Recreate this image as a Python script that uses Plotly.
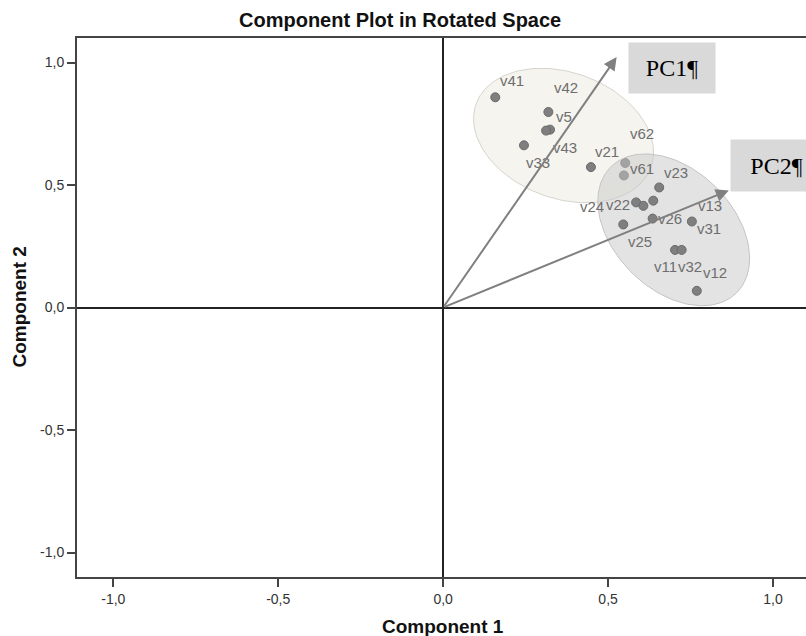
import numpy as np
import plotly.graph_objects as go

# ---------------- data ----------------
upper_vars = ["v41", "v42", "v5", "v43", "v33", "v21", "v62", "v61"]
upper_c1 = [0.158, 0.319, 0.324, 0.312, 0.245, 0.448, 0.552, 0.548]
upper_c2 = [0.858, 0.798, 0.726, 0.722, 0.662, 0.573, 0.590, 0.539]

lower_vars = ["v23", "v24", "v22", "v13", "v26", "v25", "v31", "v11", "v32", "v12"]
lower_c1 = [0.655, 0.585, 0.607, 0.637, 0.635, 0.546, 0.754, 0.703, 0.723, 0.769]
lower_c2 = [0.490, 0.429, 0.415, 0.436, 0.363, 0.339, 0.351, 0.235, 0.235, 0.068]

pc_names = ["PC1¶", "PC2¶"]
pc_c1 = [0.526, 0.866]
pc_c2 = [1.022, 0.478]

tick_vals = [-1.0, -0.5, 0.0, 0.5, 1.0]
tick_text = ["-1,0", "-0,5", "0,0", "0,5", "1,0"]

# ---------------- layout constants ----------------
W, H = 806, 636
ML, MR, MT, MB = 77, 0, 38, 59
XR = [-1.11, 1.10]
YR = [-1.10, 1.10]
PW, PH = W - ML - MR, H - MT - MB
XS = PW / (XR[1] - XR[0])
YS = PH / (YR[1] - YR[0])

# label offsets (pixels, screen: +x right, +y down)
label_off = {
    "v41": (17, -17), "v42": (18, -24), "v5": (14, -13), "v43": (19, 17),
    "v33": (14, 17), "v21": (16, -16), "v62": (17, -29), "v61": (18, -7),
    "v23": (17, -15), "v24": (-44, 4), "v22": (-25, -1), "v13": (57, 5),
    "v26": (17, 0), "v25": (17, 17), "v31": (17, 7), "v11": (-10, 17),
    "v32": (8, 17), "v12": (18, -18),
}

# ellipse definitions: centre (data), semi-axes (px), tilt (deg, screen)
ell_upper = dict(cx=0.365, cy=0.702, a=93, b=63, th=20)
ell_lower = dict(cx=0.699, cy=0.317, a=89, b=60, th=45)


def ellipse(e):
    t = np.linspace(0, 2 * np.pi, 200)
    th = np.radians(e["th"])
    dx = e["a"] * np.cos(t) * np.cos(th) - e["b"] * np.sin(t) * np.sin(th)
    dy = e["a"] * np.cos(t) * np.sin(th) + e["b"] * np.sin(t) * np.cos(th)
    return e["cx"] + dx / XS, e["cy"] - dy / YS


FONT = "Liberation Sans, Arial, sans-serif"
DOT = dict(size=9, color="#7f7f7f", line=dict(color="#6a6a6a", width=1))

fig = go.Figure()

ux, uy = ellipse(ell_upper)
fig.add_trace(go.Scatter(x=ux, y=uy, mode="lines", fill="toself",
                         fillcolor="rgba(245,244,239,1)",
                         line=dict(color="#d6d4ce", width=1),
                         hoverinfo="skip", showlegend=False))
fig.add_trace(go.Scatter(x=upper_c1, y=upper_c2, mode="markers", marker=DOT,
                         text=upper_vars, showlegend=False))

lx, ly = ellipse(ell_lower)
fig.add_trace(go.Scatter(x=lx, y=ly, mode="lines", fill="toself",
                         fillcolor="rgba(200,200,200,0.5)",
                         line=dict(color="#c4c4c4", width=1),
                         hoverinfo="skip", showlegend=False))
fig.add_trace(go.Scatter(x=lower_c1, y=lower_c2, mode="markers", marker=DOT,
                         text=lower_vars, showlegend=False))

annotations = []
for names, xs, ys in ((upper_vars, upper_c1, upper_c2), (lower_vars, lower_c1, lower_c2)):
    for n, x, y in zip(names, xs, ys):
        ox, oy = label_off[n]
        annotations.append(dict(x=x, y=y, xref="x", yref="y", text=n, showarrow=False,
                                xshift=ox, yshift=-oy,
                                font=dict(family=FONT, size=15, color="#6e6e6e")))

# PC arrows
for x, y in zip(pc_c1, pc_c2):
    annotations.append(dict(x=x, y=y, ax=0, ay=0, xref="x", yref="y", axref="x", ayref="y",
                            text="", showarrow=True, arrowhead=2, arrowsize=1.3,
                            arrowwidth=2, arrowcolor="#808080", standoff=0))

# PC label boxes (pixel centres)
pc_box = [(672, 68, 86, 50), (776.5, 165.5, 91, 51)]
for name, (bx, by, bw, bh) in zip(pc_names, pc_box):
    annotations.append(dict(x=(bx - ML) / PW, y=(H - MB - by) / PH, xref="paper", yref="paper",
                            text=name, showarrow=False, width=bw, height=bh,
                            bgcolor="#d9d9d9", borderpad=0, align="center", valign="middle",
                            xanchor="center", yanchor="middle",
                            font=dict(family="Liberation Serif, Times New Roman, serif",
                                      size=24, color="#000000")))

# titles
annotations.append(dict(x=(400 - ML) / PW, y=(H - MB - 20) / PH, xref="paper", yref="paper",
                        text="<b>Component Plot in Rotated Space</b>", showarrow=False,
                        xanchor="center", yanchor="middle",
                        font=dict(family=FONT, size=20, color="#111111")))
annotations.append(dict(x=0, y=(H - MB - 626) / PH, xref="x", yref="paper",
                        text="<b>Component 1</b>", showarrow=False,
                        xanchor="center", yanchor="middle",
                        font=dict(family=FONT, size=19, color="#111111")))
annotations.append(dict(x=(19 - ML) / PW, y=0, xref="paper", yref="y",
                        text="<b>Component 2</b>", showarrow=False, textangle=-90,
                        xanchor="center", yanchor="middle",
                        font=dict(family=FONT, size=19, color="#111111")))

axis_common = dict(tickvals=tick_vals, ticktext=tick_text, ticks="outside", ticklen=8,
                   tickwidth=1.5, tickcolor="#444444", showline=True, linecolor="#444444",
                   linewidth=2, showgrid=False, zeroline=True, zerolinecolor="#222222",
                   zerolinewidth=2,
                   tickfont=dict(family=FONT, size=14, color="#333333"))

fig.update_layout(
    width=W, height=H,
    margin=dict(l=ML, r=MR, t=MT, b=MB),
    paper_bgcolor="white", plot_bgcolor="white",
    showlegend=False,
    xaxis=dict(range=XR, mirror=True, **axis_common),
    yaxis=dict(range=YR, **axis_common),
    annotations=annotations,
)

fig.write_html("out.html")
